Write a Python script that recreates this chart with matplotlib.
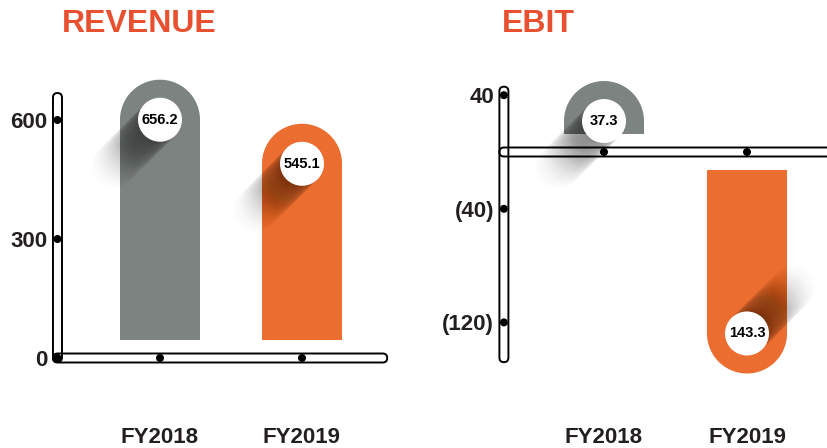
import matplotlib
matplotlib.use("Agg")
import matplotlib.pyplot as plt
import numpy as np
from matplotlib.patches import Polygon, Circle, FancyBboxPatch
from matplotlib.transforms import IdentityTransform, blended_transform_factory

plt.rcParams['font.family'] = ['Liberation Sans', 'DejaVu Sans']

# ---- data ----
categories = ["FY2018", "FY2019"]
revenue = [656.2, 545.1]
ebit = [37.3, -143.3]
revenue_ticks = [0, 300, 600]
ebit_ticks = [40, -40, -120]
titles = ["REVENUE", "EBIT"]

# ---- style / layout ----
W, H, DPI = 828, 448, 100
GRAY = '#7D8381'
ORANGE = '#EB6E30'
TITLE_C = '#E9502F'
TEXT_C = '#231F20'
BAR_COLORS = [GRAY, ORANGE]
BAR_W = 80       # px
GAP = 18         # px between axis and bar
CIRC_R = 22      # px
PILL_W = 9       # px
DOT_R = 4        # px

fig = plt.figure(figsize=(W / DPI, H / DPI), dpi=DPI)
fig.patch.set_facecolor('white')
T = IdentityTransform()


def make_axes(left_px, width_px, cat0_px, step_px, zero_px_from_top, px_per_unit):
    ax = fig.add_axes([left_px / W, 0, width_px / W, 1])
    ax.set_xlim((left_px - cat0_px) / step_px, (left_px + width_px - cat0_px) / step_px)
    ax.set_ylim((zero_px_from_top - H) / px_per_unit, zero_px_from_top / px_per_unit)
    ax.axis('off')
    return ax


def fmt(v):
    return f"({abs(v):g})" if v < 0 else f"{v:g}"


def draw_panel(ax, values, ticks, ypill_x, ypill_range, xpill_end):
    d = lambda x, y: ax.transData.transform((x, y))
    px, y0 = d(ypill_x, 0)
    # vertical pill
    _, ya = d(ypill_x, ypill_range[0])
    _, yb = d(ypill_x, ypill_range[1])
    lo, hi = min(ya, yb), max(ya, yb)
    ax.add_patch(FancyBboxPatch((px - PILL_W / 2, lo), PILL_W, hi - lo,
                                boxstyle=f"round,pad=0,rounding_size={PILL_W/2}",
                                fc='none', ec='black', lw=1.4, transform=T,
                                clip_on=False, zorder=1))
    # horizontal pill
    xe, _ = d(xpill_end, 0)
    ax.add_patch(FancyBboxPatch((px - PILL_W / 2, y0 - PILL_W / 2), xe - px + PILL_W / 2, PILL_W,
                                boxstyle=f"round,pad=0,rounding_size={PILL_W/2}",
                                fc='none', ec='black', lw=1.4, transform=T,
                                clip_on=False, zorder=1))
    # y ticks
    for t in ticks:
        _, ty = d(ypill_x, t)
        ax.add_patch(Circle((px, ty), DOT_R, fc='black', ec='none', transform=T,
                            clip_on=False, zorder=1.5))
        ax.text(px - 10, ty - 8, fmt(t), transform=T, ha='right', va='baseline',
                fontsize=16, fontweight='bold', color=TEXT_C)
    # bars
    for i, v in enumerate(values):
        cx, _ = d(i, 0)
        _, yv = d(i, v)
        ax.add_patch(Circle((cx, y0), DOT_R, fc='black', ec='none', transform=T,
                            clip_on=False, zorder=1.5))
        s = 1 if v >= 0 else -1
        base = y0 + s * GAP
        tip = base + (yv - y0)
        R = BAR_W / 2
        yc = tip - s * R
        th = np.linspace(np.pi, 0, 80) if s > 0 else np.linspace(np.pi, 2 * np.pi, 80)
        arc = np.column_stack([cx + R * np.cos(th), yc + R * np.sin(th)])
        pts = np.vstack([[cx - R, base], arc, [cx + R, base]])
        ax.add_patch(Polygon(pts, closed=True, fc=BAR_COLORS[i], ec='none',
                             transform=T, clip_on=False, zorder=2))
        # long shadow
        N = 52
        for k in range(N):
            a = 0.025 * (1 - k / N)
            off = -s * k
            ax.add_patch(Circle((cx + off, yc + off), CIRC_R, fc='black', ec='none',
                                alpha=a, transform=T, clip_on=False, zorder=3))
        ax.add_patch(Circle((cx, yc), CIRC_R, fc='white', ec='none', transform=T,
                            clip_on=False, zorder=4))
        ax.text(cx, yc, f"{abs(v):.1f}", transform=T, ha='center', va='center',
                fontsize=10.5, fontweight='bold', color='black', zorder=5)
        # category label
        ax.text(i, 1 - 443 / H, categories[i],
                transform=blended_transform_factory(ax.transData, fig.transFigure),
                ha='center', va='baseline', fontsize=16, fontweight='bold', color=TEXT_C)


ax1 = make_axes(0, 414, 160, 142, 358, 119 / 300)
ax2 = make_axes(414, 414, 604, 143, 152, 1.42)

draw_panel(ax1, revenue, revenue_ticks, -0.722, (668, -10), 1.60)
draw_panel(ax2, ebit, ebit_ticks, -0.70, (46, -148), 2.2)

fig.text(139 / W, 1 - 24 / H, titles[0], ha='center', va='center', fontsize=23,
         fontweight='bold', color=TITLE_C)
fig.text(538.5 / W, 1 - 24 / H, titles[1], ha='center', va='center', fontsize=23,
         fontweight='bold', color=TITLE_C)

fig.savefig('out.png', dpi=DPI, facecolor='white')
